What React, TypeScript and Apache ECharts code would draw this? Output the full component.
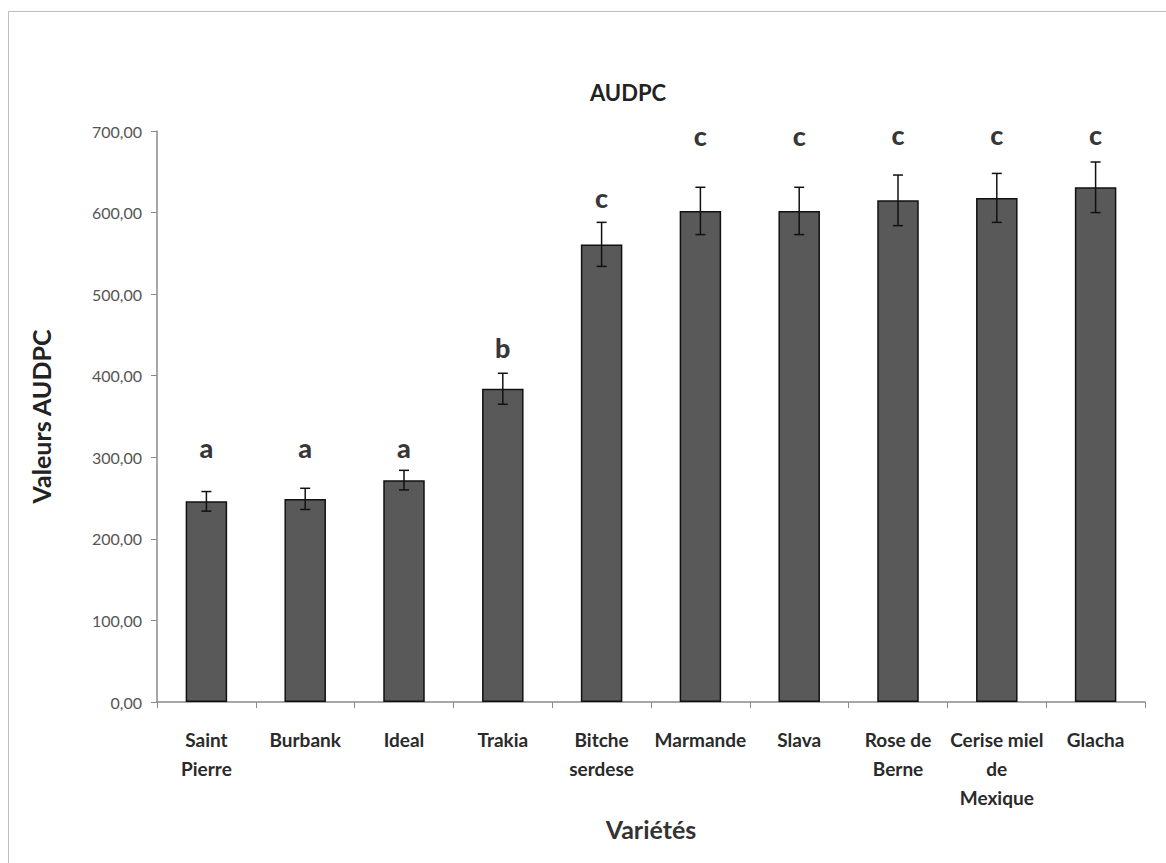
import React, { useEffect, useRef } from "react";
import * as echarts from "echarts";

// Varieties and their AUDPC means, with standard errors
const categories = [
  "Saint\nPierre",
  "Burbank",
  "Ideal",
  "Trakia",
  "Bitche\nserdese",
  "Marmande",
  "Slava",
  "Rose de\nBerne",
  "Cerise miel\nde\nMexique",
  "Glacha",
];
const audpc = [246, 249, 272, 384, 561, 602, 602, 615, 618, 631];
const stdErr = [12, 13, 12, 19, 27, 29, 29, 31, 30, 31];

// Significance groups and the level at which each letter sits
const groups = ["a", "a", "a", "b", "c", "c", "c", "c", "c", "c"];
const groupLevel = [312, 312, 312, 435, 618, 694, 694, 696, 696, 696];

const yTicks = { min: 0, max: 700, interval: 100 };

const FONT = "Lato, 'Open Sans', sans-serif";

export default function App() {
  const ref = useRef<HTMLDivElement>(null);

  useEffect(() => {
    document.body.style.margin = "0";
    const chart = echarts.init(ref.current!, null, { renderer: "svg" });

    const errData = audpc.map((v, i) => [i, v - stdErr[i], v + stdErr[i]]);
    const letterData = groupLevel.map((v, i) => [i, v]);

    chart.setOption({
      animation: false,
      backgroundColor: "#ffffff",
      graphic: [
        {
          type: "rect",
          shape: { x: 8.5, y: 11.5, width: 1200, height: 900 },
          style: { fill: "none", stroke: "#bdbdbd", lineWidth: 1 },
          silent: true,
        },
      ],
      title: {
        text: "AUDPC",
        left: 623,
        top: 76,
        textAlign: "center",
        textStyle: { fontFamily: FONT, fontSize: 22, fontWeight: "bold", color: "#222" },
      },
      grid: { left: 157, top: 131, right: 21, bottom: 161 },
      xAxis: {
        type: "category",
        data: categories,
        name: "Variétés",
        nameLocation: "middle",
        nameGap: 110,
        nameTextStyle: { fontFamily: FONT, fontSize: 25, fontWeight: "bold", color: "#333" },
        axisLine: { lineStyle: { color: "#8a8a8a", width: 1.5 } },
        axisTick: { show: true, length: 6, lineStyle: { color: "#8a8a8a" } },
        axisLabel: {
          interval: 0,
          margin: 23,
          fontFamily: FONT,
          fontSize: 19,
          fontWeight: "bold",
          color: "#2a2a2a",
          lineHeight: 29,
        },
      },
      yAxis: {
        type: "value",
        min: yTicks.min,
        max: yTicks.max,
        interval: yTicks.interval,
        name: "Valeurs AUDPC",
        nameLocation: "middle",
        nameGap: 104,
        nameRotate: 90,
        nameTextStyle: { fontFamily: FONT, fontSize: 25, fontWeight: "bold", color: "#222" },
        axisLine: { show: true, lineStyle: { color: "#8a8a8a", width: 1.5 } },
        axisTick: { show: true, length: 6, lineStyle: { color: "#8a8a8a" } },
        splitLine: { show: false },
        axisLabel: {
          margin: 15,
          fontFamily: FONT,
          fontSize: 16,
          color: "#555",
          formatter: (v: number) => v.toFixed(2).replace(".", ","),
        },
      },
      series: [
        {
          type: "bar",
          data: audpc,
          barWidth: "42%",
          itemStyle: { color: "#595959", borderColor: "#111", borderWidth: 1.5 },
          z: 2,
        },
        {
          type: "custom",
          data: errData,
          z: 3,
          renderItem: (_params: any, api: any) => {
            const x = api.value(0);
            const lo = api.coord([x, api.value(1)]);
            const hi = api.coord([x, api.value(2)]);
            const cap = 5;
            const style = { stroke: "#111", lineWidth: 1.5 };
            return {
              type: "group",
              children: [
                { type: "line", shape: { x1: hi[0], y1: hi[1], x2: lo[0], y2: lo[1] }, style },
                { type: "line", shape: { x1: hi[0] - cap, y1: hi[1], x2: hi[0] + cap, y2: hi[1] }, style },
                { type: "line", shape: { x1: lo[0] - cap, y1: lo[1], x2: lo[0] + cap, y2: lo[1] }, style },
              ],
            };
          },
        },
        {
          type: "scatter",
          data: letterData,
          symbolSize: 0,
          z: 4,
          label: {
            show: true,
            position: "inside",
            formatter: (p: any) => groups[p.dataIndex],
            fontFamily: FONT,
            fontSize: 27,
            fontWeight: 900,
            color: "#000",
          },
        },
      ],
    });

    return () => chart.dispose();
  }, []);

  return <div ref={ref} style={{ width: 1166, height: 863 }} />;
}
